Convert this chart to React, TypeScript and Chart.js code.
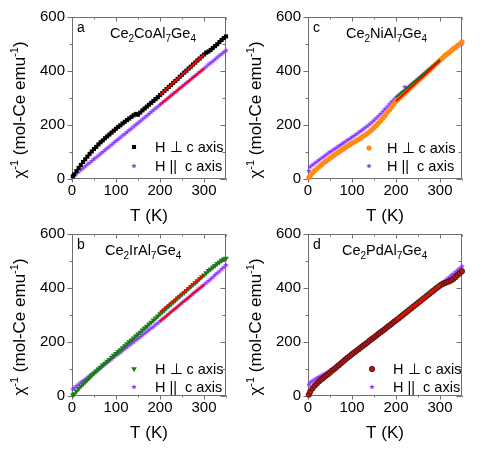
import React, { useEffect, useRef } from 'react';
import { Chart, registerables } from 'chart.js';
Chart.register(...registerables);

// ---------- data ----------
const temps = [2, 5, 10, 15, 20, 25, 30, 35, 40, 45, 50, 55, 60, 65, 70, 75, 80, 85, 90, 95, 100, 105, 110, 115, 120, 125, 130, 135, 140, 145, 150, 155, 160, 165, 170, 175, 180, 185, 190, 195, 200, 205, 210, 215, 220, 225, 230, 235, 240, 245, 250, 255, 260, 265, 270, 275, 280, 285, 290, 295, 300, 305, 310, 315, 320, 325, 330, 335, 340, 345, 350];

// Ce2CoAl7Ge4
const coPerp = [10, 17, 29, 41, 52, 63, 73, 83, 93, 102, 111, 119, 128, 136, 143, 151, 158, 165, 172, 179, 186, 193, 199, 206, 212, 218, 224, 230, 236, 241, 238, 246, 254, 261, 268, 275, 282, 289, 296, 303, 311, 318, 326, 333, 341, 348, 356, 363, 371, 379, 386, 394, 401, 409, 416, 424, 431, 439, 446, 454, 461, 468, 472, 478, 485, 492, 499, 507, 515, 522, 528];
const coPar = [9, 13, 20, 27, 34, 40, 47, 54, 60, 67, 74, 80, 87, 94, 100, 107, 114, 120, 127, 134, 141, 147, 154, 161, 167, 174, 181, 187, 194, 201, 207, 214, 221, 228, 234, 241, 248, 255, 262, 268, 275, 282, 289, 295, 302, 309, 316, 322, 329, 336, 342, 349, 356, 362, 369, 376, 382, 389, 396, 402, 409, 416, 424, 430, 436, 443, 450, 457, 463, 470, 476];
// Ce2IrAl7Ge4
const irPerp = [3, 8, 18, 27, 36, 44, 52, 60, 68, 76, 84, 92, 99, 106, 114, 121, 128, 135, 143, 150, 157, 164, 171, 178, 186, 193, 200, 207, 214, 222, 229, 236, 244, 251, 258, 266, 273, 281, 288, 296, 304, 311, 318, 326, 333, 340, 347, 354, 362, 369, 376, 383, 390, 398, 405, 412, 419, 426, 434, 441, 448, 456, 464, 470, 477, 483, 490, 496, 502, 507, 510];
const irPar = [26, 30, 37, 43, 50, 56, 62, 68, 75, 81, 87, 93, 100, 106, 112, 118, 125, 131, 137, 144, 150, 156, 162, 169, 175, 181, 188, 194, 200, 207, 213, 219, 226, 232, 238, 245, 251, 257, 264, 270, 277, 284, 290, 297, 304, 311, 318, 324, 331, 338, 345, 352, 358, 365, 372, 379, 386, 392, 399, 406, 412, 419, 426, 433, 440, 448, 455, 462, 470, 477, 485];
// Ce2NiAl7Ge4
const niPerp = [5, 12, 22, 31, 38, 45, 52, 59, 65, 71, 77, 83, 89, 95, 100, 106, 111, 117, 122, 127, 132, 137, 142, 147, 152, 158, 163, 169, 175, 182, 190, 198, 207, 216, 225, 235, 246, 256, 266, 277, 288, 296, 303, 311, 318, 326, 334, 341, 349, 356, 364, 371, 379, 387, 394, 402, 410, 417, 425, 432, 440, 447, 456, 462, 468, 475, 482, 488, 495, 501, 508];
const niPar = [30, 45, 52, 58, 64, 70, 76, 82, 88, 94, 100, 105, 111, 116, 122, 127, 133, 138, 144, 149, 155, 160, 166, 172, 178, 184, 190, 196, 203, 210, 217, 225, 233, 241, 250, 259, 268, 277, 286, 294, 302, 309, 316, 323, 341, 337, 343, 350, 357, 364, 371, 378, 385, 392, 399, 406, 412, 419, 426, 433, 440, 447, 454, 460, 466, 473, 479, 485, 491, 496, 500];
// Ce2PdAl7Ge4
const pdPerp = [5, 16, 28, 38, 46, 54, 61, 67, 74, 80, 87, 94, 100, 107, 114, 121, 128, 135, 142, 148, 155, 161, 167, 173, 180, 186, 192, 198, 205, 211, 217, 223, 230, 236, 242, 248, 255, 261, 267, 274, 280, 286, 293, 299, 306, 312, 319, 325, 332, 338, 345, 351, 358, 364, 371, 377, 384, 390, 397, 403, 409, 414, 418, 421, 424, 428, 433, 440, 448, 455, 462];
const pdPar = [42, 50, 56, 61, 66, 71, 75, 80, 84, 89, 94, 100, 106, 112, 119, 125, 131, 138, 144, 150, 157, 163, 169, 175, 182, 188, 194, 200, 207, 213, 219, 225, 232, 238, 244, 250, 257, 263, 269, 276, 282, 288, 295, 301, 308, 314, 321, 327, 334, 340, 347, 353, 360, 366, 373, 379, 386, 392, 399, 405, 412, 419, 425, 432, 439, 446, 452, 459, 466, 473, 480];

// linear fits, 200 K to 300 K
const fitTemps = [200, 300];
const coPerpFit = [311, 461];
const coParFit = [275, 409];
const irPerpFit = [311, 449];
const irParFit = [277, 412];
const niPerpFit = [288, 438];
const niParFit = [303, 442];
const pdPerpFit = [281, 409];
const pdParFit = [283, 413];

const xMajor = [0, 100, 200, 300];
const xMinor = [50, 150, 250, 350];
const yMajor = [0, 200, 400, 600];
const yMinor = [100, 300, 500];
const xRange = [0, 350];
const yRange = [0, 600];

const legendLabels = ['H \u22A5 c axis', 'H ||  c axis'];
const xTitle = 'T (K)';
type Seg = { t: string; sub?: boolean; sup?: boolean };
const yTitleParts: Seg[] = [{ t: '\u03C7' }, { t: '-1', sup: true }, { t: ' (mol-Ce emu' }, { t: '-1', sup: true }, { t: ')' }];

// ---------- styles ----------
const FONT = '"Liberation Sans", Arial, Helvetica, sans-serif';
const PURPLE = '#8a35ff';
const GRAY = '#707070';
const W = 495;
const H = 450;

type Marker = { kind: 'rect' | 'circle' | 'triDown'; fill: string; stroke?: string; r: number };

const panels = [
  {
    letter: 'a',
    formula: [{ t: 'Ce' }, { t: '2', sub: true }, { t: 'CoAl' }, { t: '7', sub: true }, { t: 'Ge' }, { t: '4', sub: true }] as Seg[],
    perp: coPerp, par: coPar, perpFit: coPerpFit, parFit: coParFit,
    marker: { kind: 'rect', fill: '#000000', r: 2.9 } as Marker,
    parFitColor: '#ff0000',
    area: { left: 72, top: 17, right: 226, bottom: 179 },
    formulaDx: 38, legMarkDx: 62, legTextDx: 83, legRows: [-32, -13],
  },
  {
    letter: 'c',
    formula: [{ t: 'Ce' }, { t: '2', sub: true }, { t: 'NiAl' }, { t: '7', sub: true }, { t: 'Ge' }, { t: '4', sub: true }] as Seg[],
    perp: niPerp, par: niPar, perpFit: niPerpFit, parFit: niParFit,
    marker: { kind: 'circle', fill: '#ff8a14', r: 2.6 } as Marker,
    parFitColor: '#008000',
    area: { left: 308, top: 17, right: 462, bottom: 179 },
    formulaDx: 38, legMarkDx: 61, legTextDx: 79, legRows: [-31, -13],
  },
  {
    letter: 'b',
    formula: [{ t: 'Ce' }, { t: '2', sub: true }, { t: 'IrAl' }, { t: '7', sub: true }, { t: 'Ge' }, { t: '4', sub: true }] as Seg[],
    perp: irPerp, par: irPar, perpFit: irPerpFit, parFit: irParFit,
    marker: { kind: 'triDown', fill: '#1b7a1b', r: 3.3 } as Marker,
    parFitColor: '#ff0000',
    area: { left: 72, top: 234, right: 226, bottom: 396 },
    formulaDx: 33, legMarkDx: 62, legTextDx: 83, legRows: [-27, -9],
  },
  {
    letter: 'd',
    formula: [{ t: 'Ce' }, { t: '2', sub: true }, { t: 'PdAl' }, { t: '7', sub: true }, { t: 'Ge' }, { t: '4', sub: true }] as Seg[],
    perp: pdPerp, par: pdPar, perpFit: pdPerpFit, parFit: pdParFit,
    marker: { kind: 'circle', fill: '#a02020', stroke: '#5c0000', r: 2.7 } as Marker,
    parFitColor: '#008000',
    area: { left: 308, top: 234, right: 462, bottom: 396 },
    formulaDx: 34, legMarkDx: 64, legTextDx: 85, legRows: [-27, -9],
  },
];

function makeStar(color: string, r: number): HTMLCanvasElement {
  const size = Math.ceil(r * 2) + 2;
  const c = document.createElement('canvas');
  c.width = size;
  c.height = size;
  const g = c.getContext('2d')!;
  g.fillStyle = color;
  g.beginPath();
  for (let i = 0; i < 10; i++) {
    const ang = -Math.PI / 2 + (i * Math.PI) / 5;
    const rr = i % 2 === 0 ? r : r * 0.45;
    g.lineTo(size / 2 + rr * Math.cos(ang), size / 2 + rr * Math.sin(ang));
  }
  g.closePath();
  g.fill();
  return c;
}

function drawMarker(ctx: CanvasRenderingContext2D, m: Marker, x: number, y: number) {
  ctx.save();
  ctx.fillStyle = m.fill;
  ctx.beginPath();
  if (m.kind === 'rect') {
    const s = m.r * Math.SQRT1_2;
    ctx.rect(x - s, y - s, 2 * s, 2 * s);
  } else if (m.kind === 'circle') {
    ctx.arc(x, y, m.r, 0, Math.PI * 2);
  } else {
    ctx.moveTo(x, y + m.r);
    ctx.lineTo(x - m.r * 0.866, y - m.r * 0.5);
    ctx.lineTo(x + m.r * 0.866, y - m.r * 0.5);
    ctx.closePath();
  }
  ctx.fill();
  if (m.stroke) {
    ctx.strokeStyle = m.stroke;
    ctx.lineWidth = 0.8;
    ctx.stroke();
  }
  ctx.restore();
}

function richWidth(ctx: CanvasRenderingContext2D, segs: Seg[], size: number, small: number) {
  let w = 0;
  for (const s of segs) {
    ctx.font = `${s.sub || s.sup ? small : size}px ${FONT}`;
    w += ctx.measureText(s.t).width;
  }
  return w;
}

function drawRich(ctx: CanvasRenderingContext2D, segs: Seg[], x: number, y: number, size: number, small: number) {
  let cx = x;
  ctx.textBaseline = 'alphabetic';
  ctx.textAlign = 'left';
  for (const s of segs) {
    ctx.font = `${s.sub || s.sup ? small : size}px ${FONT}`;
    const dy = s.sub ? size * 0.28 : s.sup ? -size * 0.42 : 0;
    ctx.fillText(s.t, cx, y + dy);
    cx += ctx.measureText(s.t).width;
  }
}

function Panel({ p }: { p: (typeof panels)[number] }) {
  const ref = useRef<HTMLCanvasElement>(null);
  useEffect(() => {
    const canvas = ref.current!;
    const star = makeStar(PURPLE, 2.8);
    const pts = (vals: number[]) => temps.map((t, i) => ({ x: t, y: vals[i] }));
    const fitPts = (vals: number[]) => fitTemps.map((t, i) => ({ x: t, y: vals[i] }));
    const m = p.marker;
    const yAxisW = 40;
    const xAxisH = 30;

    const decor = {
      id: 'decor',
      beforeDatasetsDraw(chart: any) {
        const { ctx, chartArea: a, scales } = chart;
        const xs = scales.x;
        const ys = scales.y;
        ctx.save();
        ctx.strokeStyle = GRAY;
        ctx.lineWidth = 1;
        const L = Math.round(a.left) + 0.5;
        const R = Math.round(a.right) - 0.5;
        const T = Math.round(a.top) + 0.5;
        const B = Math.round(a.bottom) - 0.5;
        ctx.strokeRect(L, T, R - L, B - T);
        ctx.beginPath();
        const xt = (vals: number[], len: number) => {
          for (const v of vals) {
            const px = Math.round(xs.getPixelForValue(v)) + 0.5;
            ctx.moveTo(px, B); ctx.lineTo(px, B + len);
            ctx.moveTo(px, T); ctx.lineTo(px, T + len);
          }
        };
        const yt = (vals: number[], len: number) => {
          for (const v of vals) {
            const py = Math.round(ys.getPixelForValue(v)) + 0.5;
            ctx.moveTo(L - len, py); ctx.lineTo(L, py);
            ctx.moveTo(R, py); ctx.lineTo(R - len, py);
          }
        };
        xt(xMajor, 4);
        xt(xMinor, 2);
        yt(yMajor, 5);
        yt(yMinor, 3);
        ctx.stroke();
        ctx.restore();
      },
      afterDraw(chart: any) {
        const { ctx, chartArea: a } = chart;
        ctx.save();
        ctx.fillStyle = '#000';
        // panel letter
        ctx.font = `14px ${FONT}`;
        ctx.textAlign = 'left';
        ctx.textBaseline = 'alphabetic';
        ctx.fillText(p.letter, a.left + 5, a.top + 15);
        // formula
        drawRich(ctx, p.formula, a.left + p.formulaDx, a.top + 21, 14.5, 10);
        // legend
        const markers = [m, null];
        p.legRows.forEach((dy: number, i: number) => {
          const y = a.bottom + dy;
          const mx = a.left + p.legMarkDx;
          if (markers[i]) drawMarker(ctx, markers[i] as Marker, mx, y);
          else ctx.drawImage(star, mx - star.width / 2, y - star.height / 2);
          ctx.fillStyle = '#000';
          ctx.font = `14.5px ${FONT}`;
          ctx.textAlign = 'left';
          ctx.textBaseline = 'middle';
          ctx.fillText(legendLabels[i], a.left + p.legTextDx, y + 1);
        });
        // x title
        ctx.font = `17px ${FONT}`;
        ctx.textAlign = 'center';
        ctx.textBaseline = 'middle';
        ctx.fillText(xTitle, (a.left + a.right) / 2, a.bottom + 37);
        // y title (rotated)
        const cx = a.left - 53;
        const cy = (a.top + a.bottom) / 2 + 12;
        ctx.translate(cx, cy);
        ctx.rotate(-Math.PI / 2);
        const w = richWidth(ctx, yTitleParts, 17, 11);
        drawRich(ctx, yTitleParts, -w / 2, 6, 17, 11);
        ctx.restore();
      },
    };

    const perpDs: any = {
      data: pts(p.perp),
      showLine: false,
      pointRadius: m.r,
      pointBackgroundColor: m.fill,
      pointBorderColor: m.stroke || m.fill,
      pointBorderWidth: m.stroke ? 0.8 : 0,
      pointStyle: m.kind === 'rect' ? 'rect' : m.kind === 'circle' ? 'circle' : 'triangle',
      pointRotation: m.kind === 'triDown' ? 180 : 0,
      clip: false,
    };

    const chart = new Chart(canvas, {
      type: 'scatter',
      data: {
        datasets: [
          { data: fitPts(p.perpFit), showLine: true, borderColor: '#ff0000', borderWidth: 2, pointRadius: 0, clip: false },
          { data: fitPts(p.parFit), showLine: true, borderColor: p.parFitColor, borderWidth: 2, pointRadius: 0, clip: false },
          perpDs,
          { data: pts(p.par), showLine: false, pointStyle: star, pointRadius: 3, clip: false },
        ],
      },
      options: {
        animation: false,
        responsive: false,
        devicePixelRatio: 1,
        events: [],
        layout: {
          padding: {
            left: p.area.left - yAxisW,
            top: p.area.top,
            right: W - p.area.right,
            bottom: H - p.area.bottom - xAxisH,
          },
        },
        plugins: { legend: { display: false }, tooltip: { enabled: false } },
        scales: {
          x: {
            type: 'linear',
            min: xRange[0],
            max: xRange[1],
            grid: { display: false, drawTicks: false },
            border: { display: false },
            ticks: { color: '#000', font: { family: FONT, size: 15 }, padding: 3, maxRotation: 0, autoSkip: false },
            afterBuildTicks: (s: any) => { s.ticks = xMajor.map((v) => ({ value: v })); },
            afterFit: (s: any) => { s.height = xAxisH; },
          },
          y: {
            type: 'linear',
            min: yRange[0],
            max: yRange[1],
            grid: { display: false, drawTicks: false },
            border: { display: false },
            ticks: { color: '#000', font: { family: FONT, size: 15 }, padding: 7, autoSkip: false },
            afterBuildTicks: (s: any) => { s.ticks = yMajor.map((v) => ({ value: v })); },
            afterFit: (s: any) => { s.width = yAxisW; },
          },
        },
      } as any,
      plugins: [decor],
    });
    return () => chart.destroy();
  }, [p]);
  return (
    <canvas
      ref={ref}
      width={W}
      height={H}
      style={{ position: 'absolute', left: 0, top: 0, width: W, height: H }}
    />
  );
}

export default function App() {
  return (
    <div style={{ position: 'fixed', left: 0, top: 0, width: W, height: H, background: '#fff' }}>
      {panels.map((p) => (
        <Panel key={p.letter} p={p} />
      ))}
    </div>
  );
}
